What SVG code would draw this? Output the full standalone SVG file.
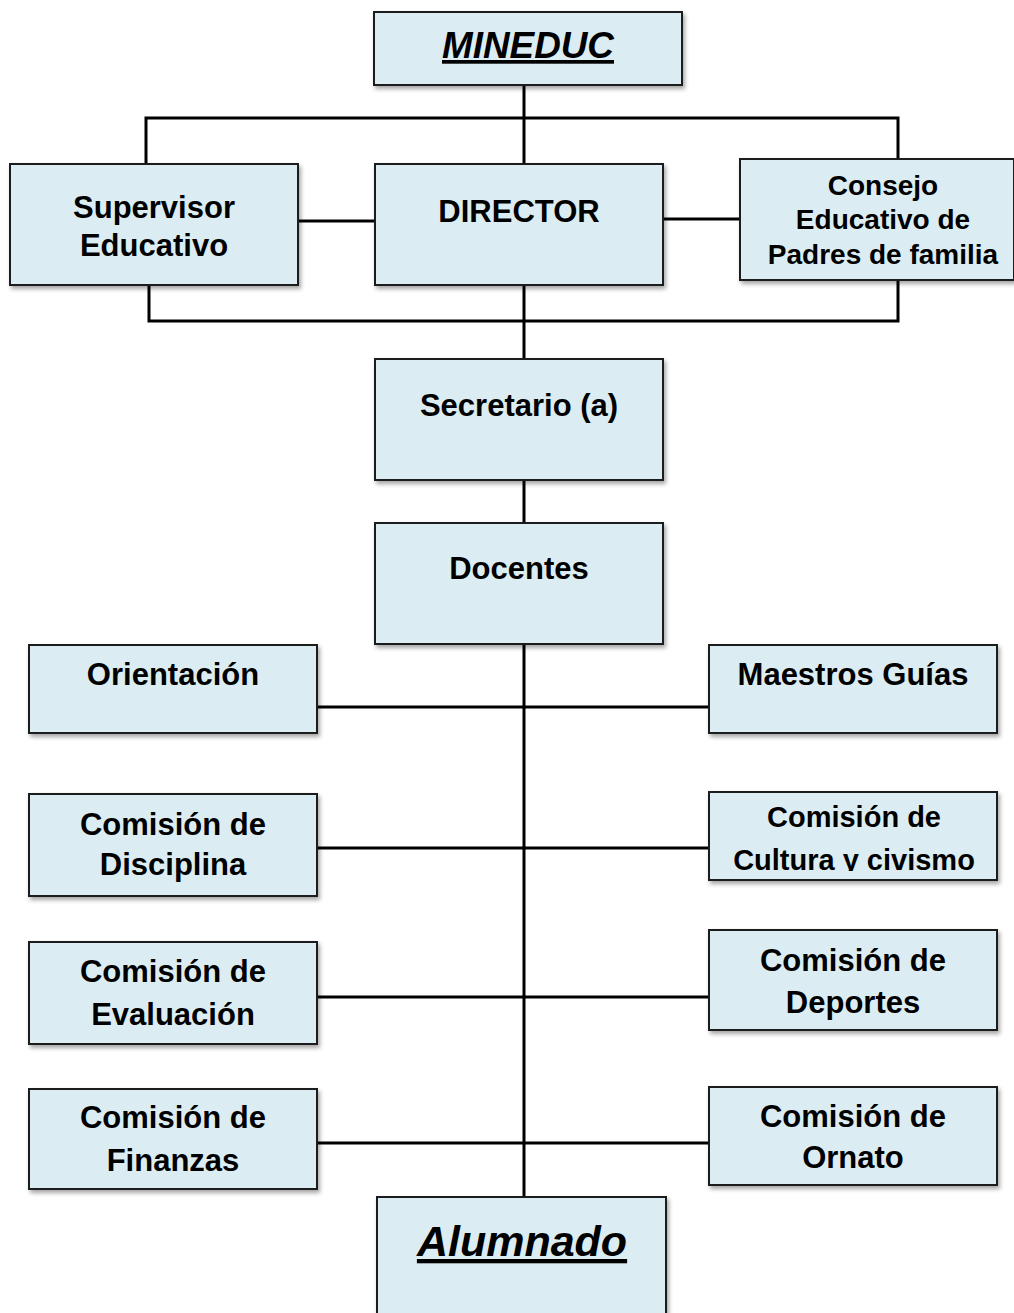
<svg xmlns="http://www.w3.org/2000/svg" width="1014" height="1313" viewBox="0 0 1014 1313">
<style>
.box{fill:#dbedf3;stroke:#1a1a1a;stroke-width:2;filter:url(#sh)}
.t{font-family:"Liberation Sans",Arial,sans-serif;font-weight:bold;font-size:31px;fill:#000;text-anchor:middle}
.ti{font-style:italic;text-decoration:underline}
.c{stroke:#000;stroke-width:3;fill:none}
</style>
<defs>
<filter id="sh" x="-10%" y="-10%" width="120%" height="130%">
<feDropShadow dx="2" dy="3" stdDeviation="2" flood-color="#000" flood-opacity="0.35"/>
</filter>
<clipPath id="clipCult"><rect x="709" y="792" width="288" height="79"/></clipPath>
</defs>
<rect width="1014" height="1313" fill="#fff"/>
<g id="connectors">
<path class="c" d="M524 85V164M146 164V118H898V159"/>
<path class="c" d="M149 285V321H898V280M524 285V359M524 480V523M524 644V1197"/>
<path class="c" d="M298 221H375M663 219H740"/>
<path class="c" d="M317 707H709M317 848H709M317 997H709M317 1143H709"/>
</g>
<g id="mineduc"><rect class="box" x="374" y="12" width="308" height="73"/><text class="t ti" x="528" y="58" font-size="37" textLength="172" lengthAdjust="spacingAndGlyphs" style="font-size:37px">MINEDUC</text></g>
<g id="supervisor"><rect class="box" x="10" y="164" width="288" height="121"/><text class="t" x="154" y="218">Supervisor</text><text class="t" x="154" y="256">Educativo</text></g>
<g id="director"><rect class="box" x="375" y="164" width="288" height="121"/><text class="t" x="519" y="222">DIRECTOR</text></g>
<g id="consejo"><rect class="box" x="740" y="159" width="274" height="121"/><text class="t" x="883" y="195" style="font-size:28px">Consejo</text><text class="t" x="883" y="229" style="font-size:28px">Educativo de</text><text class="t" x="883" y="264" style="font-size:28px">Padres de familia</text></g>
<g id="secretario"><rect class="box" x="375" y="359" width="288" height="121"/><text class="t" x="519" y="416">Secretario (a)</text></g>
<g id="docentes"><rect class="box" x="375" y="523" width="288" height="121"/><text class="t" x="519" y="579">Docentes</text></g>
<g id="orientacion"><rect class="box" x="29" y="645" width="288" height="88"/><text class="t" x="173" y="685">Orientación</text></g>
<g id="maestros"><rect class="box" x="709" y="645" width="288" height="88"/><text class="t" x="853" y="685">Maestros Guías</text></g>
<g id="disciplina"><rect class="box" x="29" y="794" width="288" height="102"/><text class="t" x="173" y="835">Comisión de</text><text class="t" x="173" y="875">Disciplina</text></g>
<g id="cultura"><rect class="box" x="709" y="792" width="288" height="88"/><g clip-path="url(#clipCult)"><text class="t" x="854" y="827" style="font-size:29px">Comisión de</text><text class="t" x="854" y="870" style="font-size:29px">Cultura y civismo</text></g></g>
<g id="evaluacion"><rect class="box" x="29" y="942" width="288" height="102"/><text class="t" x="173" y="982">Comisión de</text><text class="t" x="173" y="1025">Evaluación</text></g>
<g id="deportes"><rect class="box" x="709" y="930" width="288" height="100"/><text class="t" x="853" y="971">Comisión de</text><text class="t" x="853" y="1013">Deportes</text></g>
<g id="finanzas"><rect class="box" x="29" y="1089" width="288" height="100"/><text class="t" x="173" y="1128">Comisión de</text><text class="t" x="173" y="1171">Finanzas</text></g>
<g id="ornato"><rect class="box" x="709" y="1087" width="288" height="98"/><text class="t" x="853" y="1127">Comisión de</text><text class="t" x="853" y="1168">Ornato</text></g>
<g id="alumnado"><rect class="box" x="377" y="1197" width="289" height="130"/><text class="t ti" x="522" y="1256" style="font-size:43px">Alumnado</text></g>
</svg>
